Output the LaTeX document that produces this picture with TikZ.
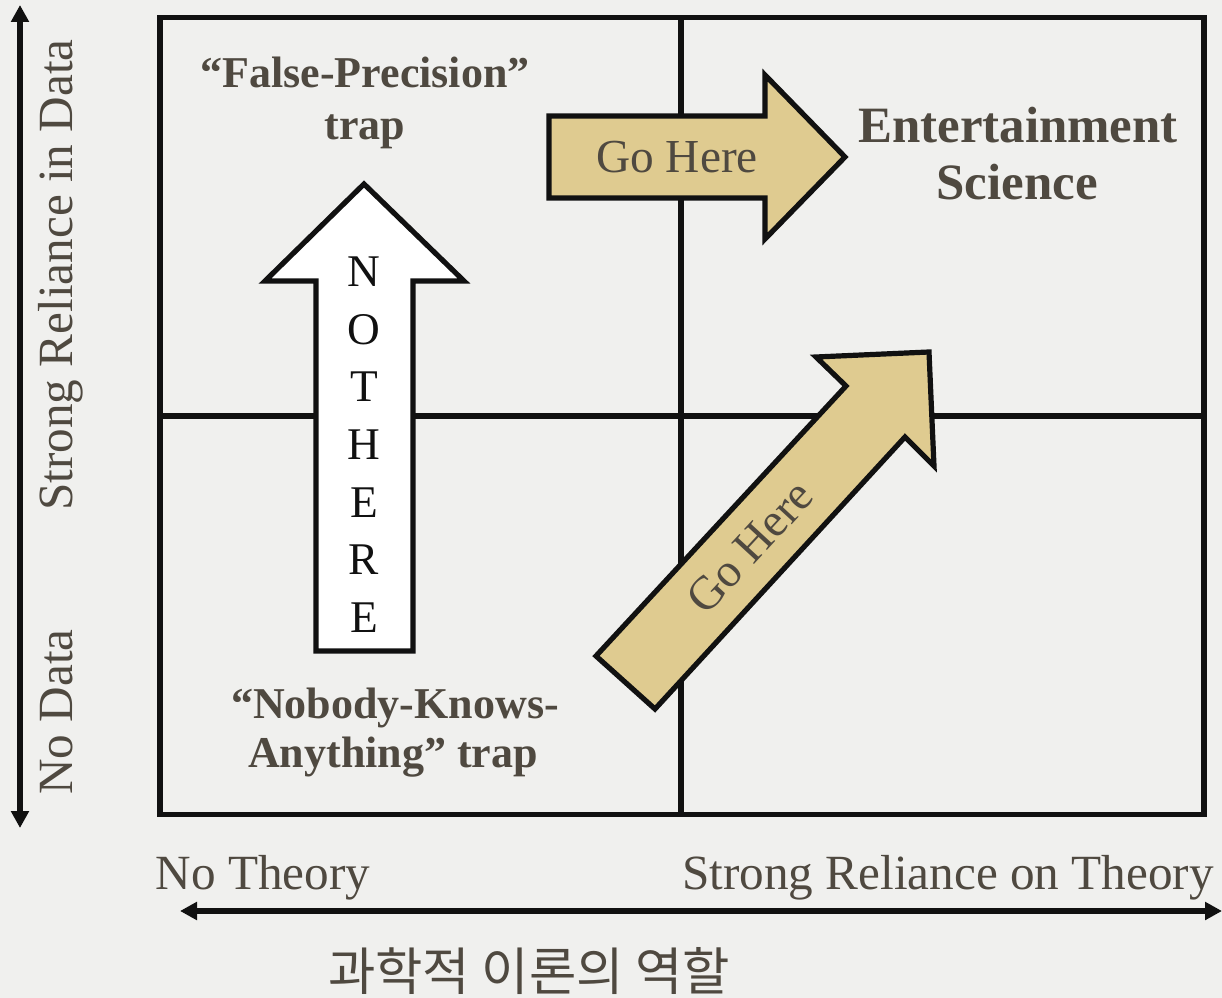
\documentclass[tikz,border=0pt]{standalone}
\usepackage{fontspec}
\setmainfont{Liberation Serif}
\newfontfamily\krfont{Noto Sans CJK KR}
\usetikzlibrary{arrows.meta}
\definecolor{bgc}{RGB}{240,240,238}
\definecolor{txt}{RGB}{79,73,64}
\definecolor{khaki}{RGB}{223,203,144}
\definecolor{ink}{RGB}{17,17,17}
\newcommand\myfs[1]{\fontsize{#1}{#1}\selectfont}
\begin{document}
\begin{tikzpicture}[x=0.75pt,y=-0.75pt,
  gridline/.style={draw=ink,line width=3.9pt},
  axisline/.style={draw=ink,line width=4.5pt,
    {Triangle[length=12.75pt,width=13pt]}-{Triangle[length=12.75pt,width=13pt]}},
  bigarrow/.style={draw=ink,line width=3.9pt,line join=miter},
  axislabel/.style={inner sep=0pt,text=txt,font=\myfs{36.9}},
  traplabel/.style={inner sep=0pt,text=txt,font=\myfs{33}\bfseries},
  esclabel/.style={inner sep=0pt,text=txt,font=\myfs{38.2}\bfseries},
  golabel/.style={inner sep=0pt,text=txt,font=\myfs{35.5}},
  letter/.style={inner sep=0pt,text=ink,font=\myfs{34}}]
% background and bounding box
\fill[bgc] (0,0) rectangle (1222,998);
\useasboundingbox (0,0) rectangle (1222,998);
% grid
\draw[gridline] (160,17.5) rectangle (1204,814.5);
\draw[gridline] (681,17.5) -- (681,814.5);
\draw[gridline] (160,416) -- (1204,416);
% axes
\coordinate (ytop) at (20,5);
\coordinate (ybot) at (20,828);
\coordinate (xl) at (180,911);
\coordinate (xr) at (1222,911);
\draw[axisline] (ybot) -- (ytop);
\draw[axisline] (xl) -- (xr);
% axis labels
\node[axislabel,rotate=90,anchor=base] (ydata) at (72,275) {Strong Reliance in Data};
\node[axislabel,rotate=90,anchor=base] (ynodata) at (72,712) {No Data};
\node[axislabel,anchor=base] (xnotheory) at (263,889) {No Theory};
\node[axislabel,anchor=base] (xtheory) at (948,889) {Strong Reliance on Theory};
\node[inner sep=0pt,text=txt,font=\krfont\myfs{38.6}] (role) at (529,971) {과학적 이론의 역할};
% NOT HERE arrow
\draw[bigarrow,fill=white] (316,651) -- (316,281) -- (265,281) -- (364,184) -- (464,281)
  -- (413,281) -- (413,651) -- cycle;
\foreach \ch/\yy [count=\i] in {N/287,O/345,T/402,H/460,E/518,R/575,E/633}
  \node[letter,anchor=base] (nh\i) at (364,\yy) {\ch};
% horizontal Go Here arrow
\draw[bigarrow,fill=khaki] (549,116) -- (765,116) -- (765,75) -- (845,157) -- (765,239)
  -- (765,198) -- (549,198) -- cycle;
\node[golabel,anchor=base] (gohere1) at (677,173) {Go Here};
% diagonal Go Here arrow
\draw[bigarrow,fill=khaki] (596,656) -- (846,386) -- (816,357) -- (929,352) -- (934,466)
  -- (905,437) -- (655,709) -- cycle;
\node[golabel,rotate=47.3] (gohere2) at (750,547) {Go Here};
% quadrant labels
\node[traplabel,anchor=base] (fp1) at (365,88) {“False-Precision”};
\node[traplabel,anchor=base] (fp2) at (365,140) {trap};
\node[esclabel,anchor=base] (es1) at (1018,143) {Entertainment};
\node[esclabel,anchor=base] (es2) at (1017,200) {Science};
\node[traplabel,anchor=base] (nk1) at (395,718) {“Nobody-Knows-};
\node[traplabel,anchor=base] (nk2) at (393,767) {Anything” trap};
\end{tikzpicture}
\end{document}
